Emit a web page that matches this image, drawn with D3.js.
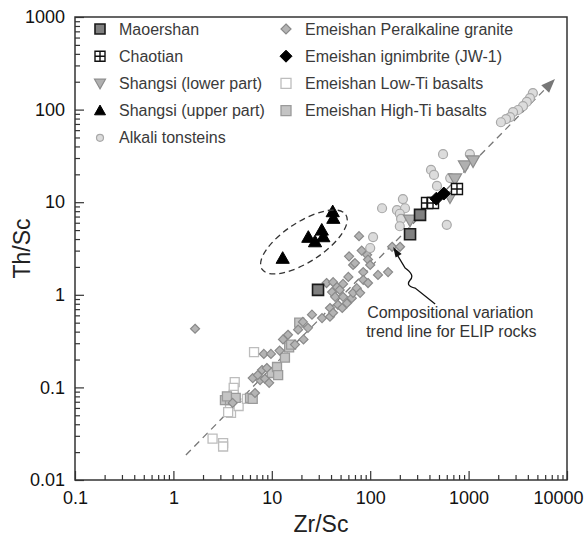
<!DOCTYPE html>
<html>
<head>
<meta charset="utf-8">
<script src="https://cdn.jsdelivr.net/npm/d3@7"></script>
<style>
  body { margin: 0; background: #fff; }
  svg { display: block; font-family: Arial, "Liberation Sans", Helvetica, sans-serif; }
</style>
</head>
<body>
<svg id="chart" width="584" height="539"></svg>
<script>
// ---- data: [Zr/Sc, Th/Sc] ----
const maoershan = [[29.5, 1.13], [254, 4.5], [321, 7.3]];
const chaotian = [[378, 9.8], [435, 9.8], [762, 13.9]];
const shangsiLower = [[254, 6.4], [647, 11.4], [727, 17.8], [919, 24.6], [1110, 27.9]];
const shangsiUpper = [[12.9, 2.48], [23.5, 4.18], [27.5, 3.74], [32.2, 5.0], [33.4, 4.24], [41.6, 7.9], [42.2, 6.7]];
const alkaliTonsteins = [
  [4500, 151], [4200, 133], [3900, 121], [3570, 109], [3180, 99], [2830, 94], [2640, 83], [2400, 79], [2130, 73],
  [550, 33], [1030, 33], [415, 22.3], [445, 19.7], [650, 18.2], [477, 15], [600, 5.7],
  [215, 10.8], [132, 8.6], [187, 8.2], [226, 8.6], [200, 7.5], [206, 6.6], [200, 5.5], [107, 4.2], [100, 3.2]
];
const peralkalineGranite = [
  [1.66, 0.43],
  [8.3, 0.23], [9.8, 0.23], [4.0, 0.068], [6.4, 0.126], [6.75, 0.087], [7.6, 0.12], [7.95, 0.154],
  [8.9, 0.162], [8.5, 0.124], [9.4, 0.112], [7.2, 0.136],
  [13, 0.33], [14.6, 0.37], [17.2, 0.29], [18.5, 0.42], [20.7, 0.51], [23.3, 0.44], [25.6, 0.61],
  [32.4, 0.56], [12, 0.25], [21, 0.33],
  [36, 1.34], [39, 0.72], [39, 0.58], [41, 1.07], [42, 1.37], [42, 0.64], [44, 0.95], [46, 1.21],
  [47, 0.78], [49, 1.13], [52, 0.72], [53, 1.31], [53, 0.95], [58, 0.81], [60, 1.56], [61, 2.6],
  [65, 0.92], [67, 2.1], [67, 1.05], [70, 2.2], [73, 1.18], [77, 4.3], [79, 1.05], [82, 3.0],
  [85, 1.76], [85, 1.45], [93, 2.7], [95, 2.4], [95, 1.34], [100, 2.1], [120, 1.64], [152, 1.76],
  [167, 3.3], [201, 3.3]
];
const ignimbrite = [[470, 10.9], [560, 12.4]];
const lowTiBasalts = [
  [6.6, 0.24], [4.2, 0.114], [4.1, 0.099], [4.1, 0.083], [3.76, 0.061], [3.85, 0.053], [3.6, 0.054],
  [4.6, 0.063], [2.5, 0.028], [3.2, 0.025], [3.2, 0.023], [5.6, 0.075]
];
const highTiBasalts = [
  [3.34, 0.073], [3.76, 0.073], [4.3, 0.077], [6.0, 0.077], [6.4, 0.075], [3.5, 0.08],
  [10, 0.143], [11.3, 0.166], [11.6, 0.136], [15, 0.27], [15.7, 0.29], [13.6, 0.21], [19, 0.5]
];

// trend line and the Shangsi envelope
const trendLine = [[1.34, 0.0186], [7550, 214]];
const envelopeCenter = [21.2, 3.72];
const arrowTip = [171, 3.28];

const xTicks = [0.1, 1, 10, 100, 1000, 10000];
const yTicks = [0.01, 0.1, 1, 10, 100, 1000];

const margin = { top: 17, right: 17, bottom: 59, left: 75 };
const width = 584 - margin.left - margin.right;
const height = 539 - margin.top - margin.bottom;

const svg = d3.select("#chart");
const g = svg.append("g").attr("transform", `translate(${margin.left},${margin.top})`);

const x = d3.scaleLog().domain([0.1, 10000]).range([0, width]);
const y = d3.scaleLog().domain([0.01, 1000]).range([height, 0]);

// minor ticks 2..9 in each decade
function minors(majors) {
  const out = [];
  majors.slice(0, -1).forEach(m => { for (let k = 2; k <= 9; k++) out.push(m * k); });
  return out;
}

const axisColor = "#333";

g.append("g")
  .attr("transform", `translate(0,${height})`)
  .call(d3.axisBottom(x).tickValues(minors(xTicks)).tickSize(-5).tickFormat(""))
  .call(a => a.select(".domain").remove());
const xAxis = g.append("g")
  .attr("transform", `translate(0,${height})`)
  .call(d3.axisBottom(x).tickValues(xTicks).tickSize(-9).tickPadding(11).tickFormat(d => String(d)))
  .call(a => a.select(".domain").remove());
xAxis.selectAll("text").attr("font-size", 18).attr("fill", "#111");
xAxis.selectAll(".tick:last-of-type text").attr("text-anchor", "end").attr("x", 16);

g.append("g")
  .call(d3.axisLeft(y).tickValues(minors(yTicks)).tickSize(-5).tickFormat(""))
  .call(a => a.select(".domain").remove());
const yAxis = g.append("g")
  .call(d3.axisLeft(y).tickValues(yTicks).tickSize(-9).tickPadding(10).tickFormat(d => String(d)))
  .call(a => a.select(".domain").remove());
yAxis.selectAll("text").attr("font-size", 18).attr("fill", "#111");

g.selectAll(".tick line").attr("stroke", axisColor).attr("stroke-width", 1.2);

g.append("rect")
  .attr("width", width).attr("height", height)
  .attr("fill", "none").attr("stroke", axisColor).attr("stroke-width", 1.5);

// axis titles
svg.append("text")
  .attr("x", margin.left + width / 2).attr("y", 532)
  .attr("text-anchor", "middle").attr("font-size", 23).attr("fill", "#222")
  .text("Zr/Sc");
svg.append("text")
  .attr("transform", `translate(30,${margin.top + height / 2}) rotate(-90)`)
  .attr("text-anchor", "middle").attr("font-size", 23).attr("fill", "#222")
  .text("Th/Sc");

// trend line with arrow head
const t0 = [x(trendLine[0][0]), y(trendLine[0][1])];
const t1 = [x(trendLine[1][0]), y(trendLine[1][1])];
const len = Math.hypot(t1[0] - t0[0], t1[1] - t0[1]);
const ux = (t1[0] - t0[0]) / len, uy = (t1[1] - t0[1]) / len;
const headL = 14, headW = 5.5;
g.append("line")
  .attr("x1", t0[0]).attr("y1", t0[1])
  .attr("x2", t1[0] - ux * headL).attr("y2", t1[1] - uy * headL)
  .attr("stroke", "#777").attr("stroke-width", 1.3).attr("stroke-dasharray", "7,5");
g.append("path")
  .attr("d", `M${t1[0]},${t1[1]}L${t1[0] - ux * headL - uy * headW},${t1[1] - uy * headL + ux * headW}L${t1[0] - ux * headL + uy * headW},${t1[1] - uy * headL - ux * headW}Z`)
  .attr("fill", "#777");

// marker shapes
const shapes = {
  square: s => `M${-s / 2},${-s / 2}h${s}v${s}h${-s}Z`,
  grid: s => `M${-s / 2},${-s / 2}h${s}v${s}h${-s}Z M0,${-s / 2}v${s} M${-s / 2},0h${s}`,
  diamond: s => `M0,${-s / 2}L${s / 2},0L0,${s / 2}L${-s / 2},0Z`,
  triUp: s => `M0,${-s * 0.55}L${s * 0.55},${s * 0.42}L${-s * 0.55},${s * 0.42}Z`,
  triDown: s => `M0,${s * 0.55}L${s * 0.55},${-s * 0.42}L${-s * 0.55},${-s * 0.42}Z`,
  circle: s => d3.symbol(d3.symbolCircle, Math.PI * (s / 2) * (s / 2))()
};

const series = [
  { name: "Emeishan Low-Ti basalts", data: lowTiBasalts, shape: "square", size: 9, fill: "#fff", stroke: "#bdbdbd", sw: 1.3 },
  { name: "Emeishan High-Ti basalts", data: highTiBasalts, shape: "square", size: 9, fill: "#c4c4c4", stroke: "#9a9a9a", sw: 1.3 },
  { name: "Emeishan Peralkaline granite", data: peralkalineGranite, shape: "diamond", size: 9, fill: "#b4b4b4", stroke: "#8a8a8a", sw: 1.2 },
  { name: "Alkali tonsteins", data: alkaliTonsteins, shape: "circle", size: 9, fill: "#dcdcdc", stroke: "#a8a8a8", sw: 1.2 },
  { name: "Shangsi (lower part)", data: shangsiLower, shape: "triDown", size: 12, fill: "#b0b0b0", stroke: "#8c8c8c", sw: 1.2 },
  { name: "Maoershan", data: maoershan, shape: "square", size: 11, fill: "#808080", stroke: "#1a1a1a", sw: 1.6 },
  { name: "Chaotian", data: chaotian, shape: "grid", size: 11, fill: "#fff", stroke: "#111", sw: 1.4 },
  { name: "Emeishan ignimbrite (JW-1)", data: ignimbrite, shape: "diamond", size: 13, fill: "#000", stroke: "#000", sw: 1 },
  { name: "Shangsi (upper part)", data: shangsiUpper, shape: "triUp", size: 12, fill: "#000", stroke: "#000", sw: 1 }
];

series.forEach(s => {
  g.append("g").selectAll("path")
    .data(s.data)
    .join("path")
    .attr("transform", d => `translate(${x(d[0])},${y(d[1])})`)
    .attr("d", shapes[s.shape](s.size))
    .attr("fill", s.fill).attr("stroke", s.stroke).attr("stroke-width", s.sw);
});

// dashed envelope around Shangsi upper part
g.append("ellipse")
  .attr("transform", `translate(${x(envelopeCenter[0])},${y(envelopeCenter[1])}) rotate(-33)`)
  .attr("rx", 50).attr("ry", 20)
  .attr("fill", "none").attr("stroke", "#333").attr("stroke-width", 1.3).attr("stroke-dasharray", "6,4");

// annotation arrow + text
const ax = x(arrowTip[0]), ay = y(arrowTip[1]);
const annot = g.append("g").attr("transform", `translate(${ax},${ay})`);
annot.append("path")
  .attr("d", "M3,6 L12,21 Q22,28 17,33 Q12,39 22,41 L42,57")
  .attr("fill", "none").attr("stroke", "#111").attr("stroke-width", 1.3);
annot.append("path")
  .attr("d", "M0,0 L8.5,7 L2.5,10.5 Z")
  .attr("fill", "#111");
const annText = g.append("text")
  .attr("x", ax - 26).attr("y", ay + 71)
  .attr("font-size", 16).attr("fill", "#333");
annText.append("tspan").text("Compositional variation");
annText.append("tspan").attr("x", ax - 27).attr("dy", 19).text("trend line for ELIP rocks");

// legend
const legendCols = [
  { x: 25, items: ["Maoershan", "Chaotian", "Shangsi (lower part)", "Shangsi (upper part)", "Alkali tonsteins"] },
  { x: 211, items: ["Emeishan Peralkaline granite", "Emeishan ignimbrite (JW-1)", "Emeishan Low-Ti basalts", "Emeishan High-Ti basalts"] }
];
legendCols.forEach(col => {
  col.items.forEach((name, i) => {
    const s = series.find(d => d.name === name);
    const ly = 12 + i * 27.2;
    const row = g.append("g").attr("transform", `translate(${col.x},${ly})`);
    const lsize = s.shape === "circle" ? 7 : (s.name.includes("ignimbrite") ? 12 : 10);
    row.append("path")
      .attr("d", shapes[s.shape](lsize))
      .attr("fill", s.fill).attr("stroke", s.stroke).attr("stroke-width", s.sw);
    row.append("text")
      .attr("x", 19).attr("dy", "0.35em")
      .attr("font-size", 16).attr("fill", "#3a3a3a")
      .text(name);
  });
});
</script>
</body>
</html>
